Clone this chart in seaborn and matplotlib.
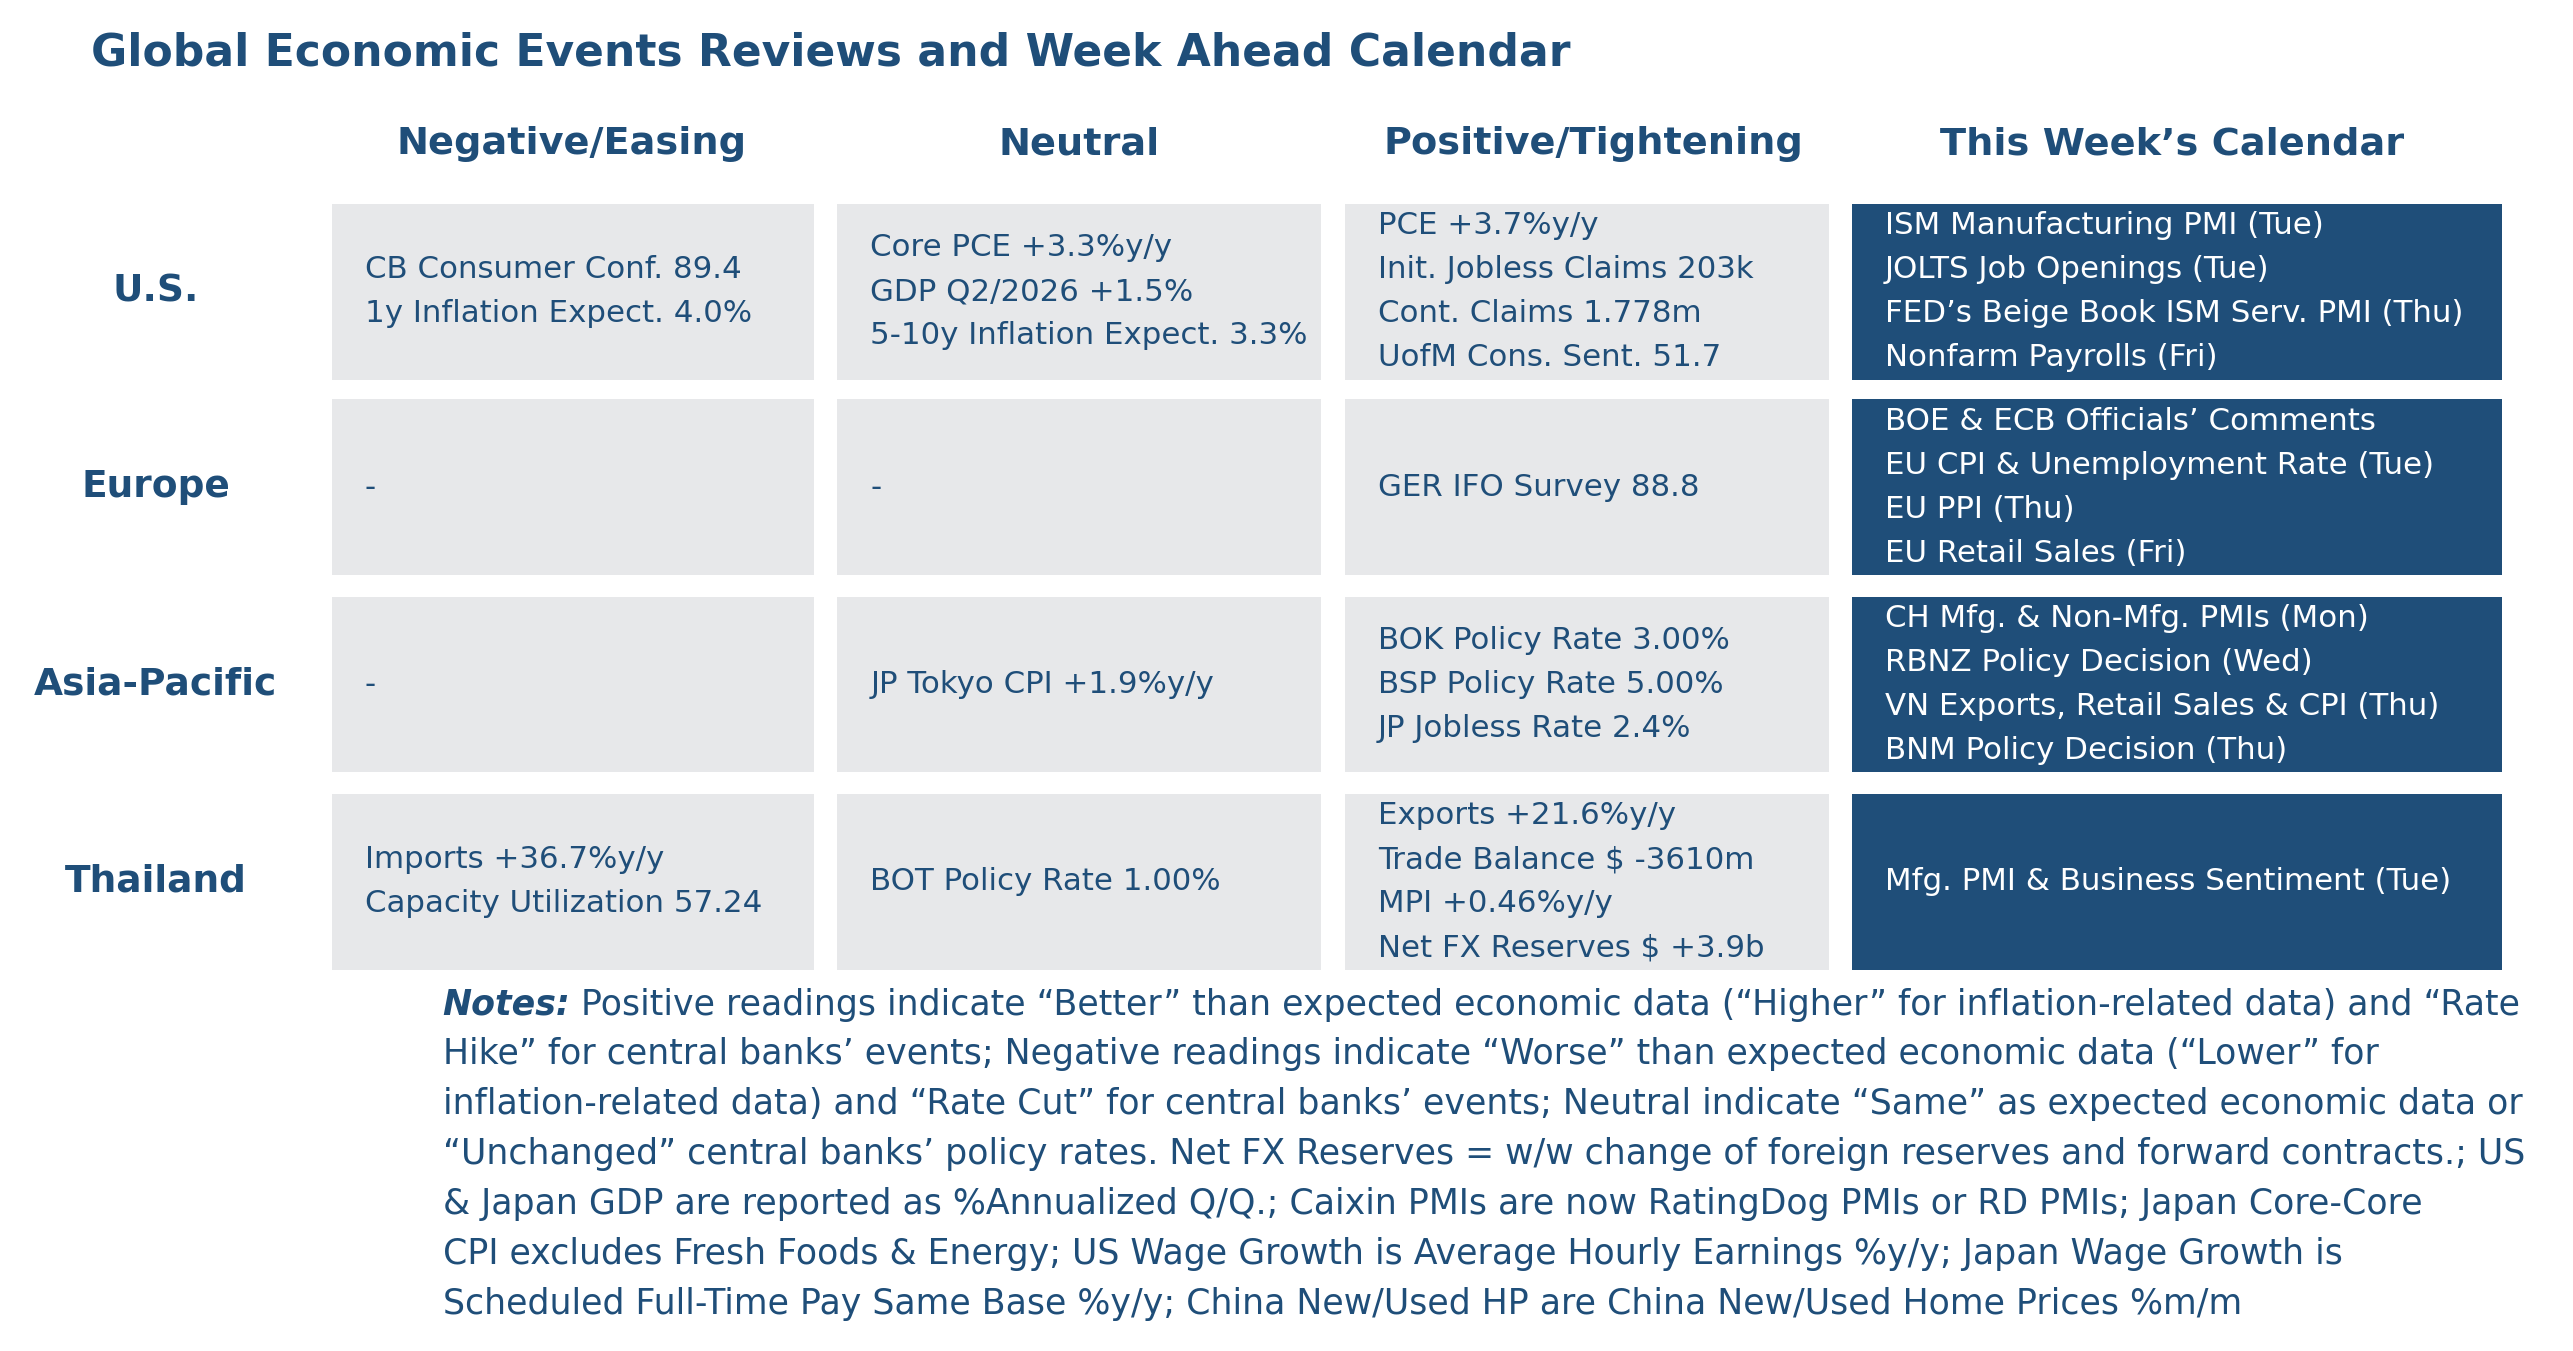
import matplotlib
matplotlib.use("Agg")
import matplotlib.pyplot as plt
import seaborn as sns

sns.set_theme(style="white")
plt.rcParams['font.family'] = ['DejaVu Sans']

title = "Global Economic Events Reviews and Week Ahead Calendar"
columns = ["Negative/Easing", "Neutral", "Positive/Tightening", "This Week\u2019s Calendar"]
regions = ["U.S.", "Europe", "Asia-Pacific", "Thailand"]

negative = [
    ["CB Consumer Conf. 89.4", "1y Inflation Expect. 4.0%"],
    ["-"],
    ["-"],
    ["Imports +36.7%y/y", "Capacity Utilization 57.24"],
]
neutral = [
    ["Core PCE +3.3%y/y", "GDP Q2/2026 +1.5%", "5-10y Inflation Expect. 3.3%"],
    ["-"],
    ["JP Tokyo CPI +1.9%y/y"],
    ["BOT Policy Rate 1.00%"],
]
positive = [
    ["PCE +3.7%y/y", "Init. Jobless Claims 203k", "Cont. Claims 1.778m", "UofM Cons. Sent. 51.7"],
    ["GER IFO Survey 88.8"],
    ["BOK Policy Rate 3.00%", "BSP Policy Rate 5.00%", "JP Jobless Rate 2.4%"],
    ["Exports +21.6%y/y", "Trade Balance $ -3610m", "MPI +0.46%y/y", "Net FX Reserves $ +3.9b"],
]
calendar = [
    ["ISM Manufacturing PMI (Tue)", "JOLTS Job Openings (Tue)",
     "FED\u2019s Beige Book ISM Serv. PMI (Thu)", "Nonfarm Payrolls (Fri)"],
    ["BOE & ECB Officials\u2019 Comments", "EU CPI & Unemployment Rate (Tue)",
     "EU PPI (Thu)", "EU Retail Sales (Fri)"],
    ["CH Mfg. & Non-Mfg. PMIs (Mon)", "RBNZ Policy Decision (Wed)",
     "VN Exports, Retail Sales & CPI (Thu)", "BNM Policy Decision (Thu)"],
    ["Mfg. PMI & Business Sentiment (Tue)"],
]

notes_label = "Notes:"
notes_lines = [
    " Positive readings indicate \u201cBetter\u201d than expected economic data (\u201cHigher\u201d for inflation-related data) and \u201cRate",
    "Hike\u201d for central banks\u2019 events; Negative readings indicate \u201cWorse\u201d than expected economic data (\u201cLower\u201d for",
    "inflation-related data) and \u201cRate Cut\u201d for central banks\u2019 events; Neutral indicate \u201cSame\u201d as expected economic data or",
    "\u201cUnchanged\u201d central banks\u2019 policy rates. Net FX Reserves = w/w change of foreign reserves and forward contracts.; US",
    "& Japan GDP are reported as %Annualized Q/Q.; Caixin PMIs are now RatingDog PMIs or RD PMIs; Japan Core-Core",
    "CPI excludes Fresh Foods & Energy; US Wage Growth is Average Hourly Earnings %y/y; Japan Wage Growth is",
    "Scheduled Full-Time Pay Same Base %y/y; China New/Used HP are China New/Used Home Prices %m/m",
]

# layout (in a 1552 x 815 canvas)
W, H = 1552, 815
navy = "#1F4E79"
grey = "#E7E8EA"
col_left = [200, 505, 811, 1117]
col_width = [291, 292, 292, 392]
header_x = [345, 651, 961, 1310]
row_y = [176, 294, 413, 532]
box_h = 106
line_gap = 26.6

fig = plt.figure(figsize=(25.73, 13.51), dpi=100)
ax = fig.add_axes([0, 0, 1, 1])
ax.set_xlim(0, W)
ax.set_ylim(H, 0)
ax.axis("off")

ax.text(55, 32, title, fontsize=31.7, fontweight="bold", color=navy, va="center", ha="left")

for j, name in enumerate(columns):
    ax.text(header_x[j], 87, name, fontsize=27.5, fontweight="bold",
            color=navy, ha="center", va="center")

for i, reg in enumerate(regions):
    ax.text(94, row_y[i], reg, fontsize=27, fontweight="bold", color=navy,
            ha="center", va="center")

cells = [negative, neutral, positive, calendar]
for j, col in enumerate(cells):
    face = navy if j == 3 else grey
    tcolor = "white" if j == 3 else navy
    ax.barh(row_y, width=col_width[j], left=col_left[j], height=box_h,
            color=face, edgecolor="none")
    for i, lines in enumerate(col):
        n = len(lines)
        for k, line in enumerate(lines):
            y = row_y[i] + (k - (n - 1) / 2) * line_gap
            ax.text(col_left[j] + 20, y, line, fontsize=22.2, color=tcolor,
                    ha="left", va="center")

# notes
fig.canvas.draw()
r = fig.canvas.get_renderer()
lab = ax.text(267, 606, notes_label, fontsize=25, fontweight="bold", fontstyle="italic",
              color=navy, ha="left", va="center")
bb = lab.get_window_extent(renderer=r)
x_after = ax.transData.inverted().transform((bb.x1, bb.y0))[0]
for k, line in enumerate(notes_lines):
    x = x_after if k == 0 else 267
    ax.text(x, 606 + k * 30.1, line, fontsize=25, color=navy, ha="left", va="center")

fig.savefig("out.png", dpi=100)
